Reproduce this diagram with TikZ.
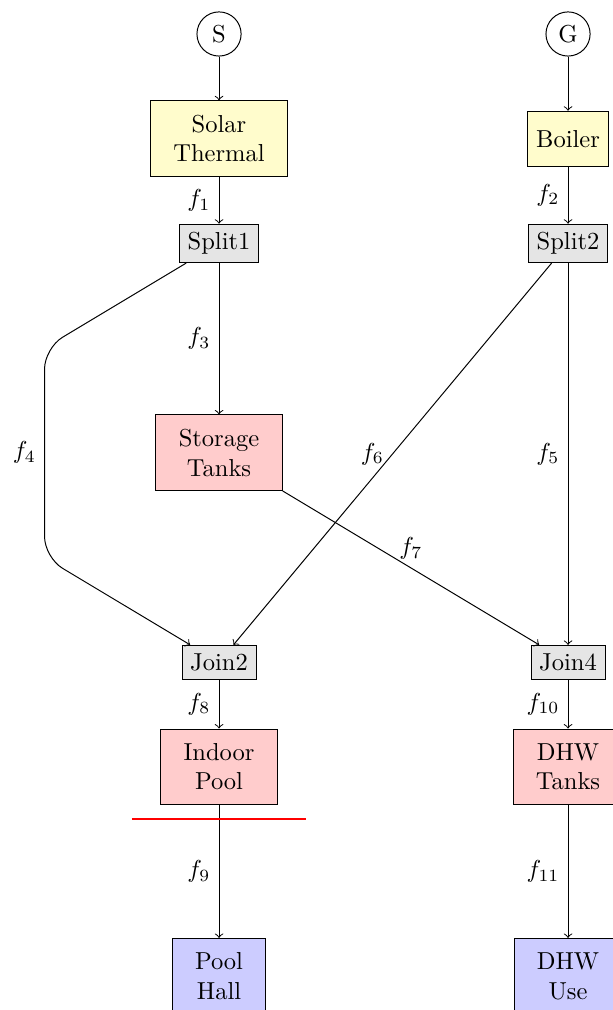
\documentclass[tikz,border=0pt]{standalone}
\usetikzlibrary{calc}
\begin{document}
\begin{tikzpicture}[
  src/.style={circle,draw,minimum size=18pt,inner sep=1pt},
  unitbox/.style={rectangle,draw,align=center,inner xsep=9.3pt,minimum height=30.9pt},
  supply/.style={unitbox,fill=yellow!20},
  demand/.style={unitbox,fill=red!20},
  sink/.style={unitbox,fill=blue!20},
  junction/.style={rectangle,draw,fill=gray!20},
  flow/.style={->},
  flowlbl/.style={left}
]
\useasboundingbox (-3.138,0.487) rectangle (5.630,-13.983);

% sources
\node[src] (S) at (0,0) {S};
\node[src] (G) at (5,0) {G};

% generation
\node[supply] (solar) at (0,-1.5) {Solar\\Thermal};
\node[rectangle,draw,fill=yellow!20,minimum height=22.4pt] (boiler) at (5,-1.5) {Boiler};

% splitters
\node[junction] (split1) at (0,-3) {Split1};
\node[junction] (split2) at (5,-3) {Split2};

% storage
\node[demand] (storage) at (0,-6) {Storage\\Tanks};

% joins
\node[junction] (join2) at (0,-9) {Join2};
\node[junction] (join4) at (5,-9) {Join4};

% consumers
\node[demand] (pool) at (0,-10.5) {Indoor\\Pool};
\node[demand] (dhwt) at (5,-10.5) {DHW\\Tanks};
\node[sink] (hall) at (0,-13.5) {Pool\\Hall};
\node[sink] (dhwu) at (5,-13.5) {DHW\\Use};

% bypass corners
\coordinate (by1) at (-2.5,-4.5);
\coordinate (by2) at (-2.5,-7.5);

% flows
\draw[flow] (S) -- (solar);
\draw[flow] (G) -- (boiler);
\draw[flow] (solar) -- node[flowlbl] {$f_1$} (split1);
\draw[flow] (boiler) -- node[flowlbl] {$f_2$} (split2);
\draw[flow] (split1) -- node[flowlbl] {$f_3$} (storage);
\draw[flow,rounded corners=0.3cm] (split1) -- (by1) -- node[flowlbl] {$f_4$} (by2) -- (join2);
\draw[flow] (split2) -- node[flowlbl] {$f_5$} (join4);
\draw[flow] (split2) -- node[flowlbl] {$f_6$} (join2);
\draw[flow] (storage) -- node[above] {$f_7$} (join4);
\draw[flow] (join2) -- node[flowlbl] {$f_8$} (pool);
\draw[flow] (pool) -- node[flowlbl] {$f_9$} (hall);
\draw[flow] (join4) -- node[flowlbl] {$f_{10}$} (dhwt);
\draw[flow] (dhwt) -- node[flowlbl] {$f_{11}$} (dhwu);

% cut line below the pool
\coordinate (cutL) at ($(pool.south)+(-1.25,-0.2)$);
\coordinate (cutR) at ($(pool.south)+(1.25,-0.2)$);
\draw[red,thick] (cutL) -- (cutR);
\end{tikzpicture}
\end{document}
